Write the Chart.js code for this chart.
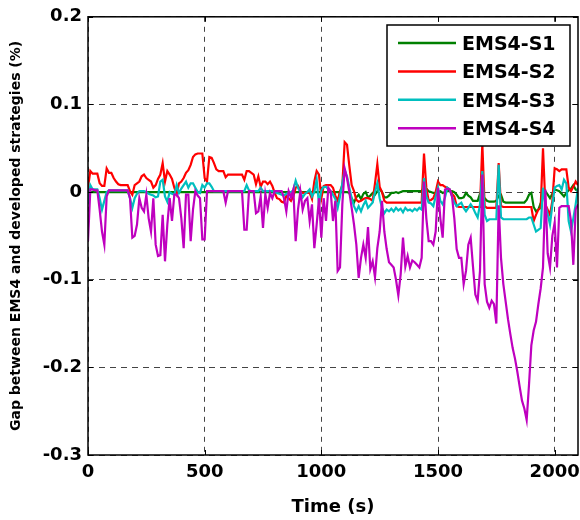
<!DOCTYPE html>
<html>
<head>
<meta charset="utf-8">
<script src="https://cdn.jsdelivr.net/npm/chart.js@4.4.0/dist/chart.umd.min.js"></script>
<style>
  html, body { margin: 0; padding: 0; background: #fff; }
</style>
</head>
<body>
<canvas id="gapChart" width="580" height="520"></canvas>
<script>
// Sample times (s), one every 10 s
const TIME = Array.from({ length: 211 }, (_, i) => i * 10);

const SERIES_LABELS = ['EMS4-S1', 'EMS4-S2', 'EMS4-S3', 'EMS4-S4'];
const SERIES_COLORS = ['#008000', '#ff0000', '#00bfbf', '#bf00bf'];

const X_TICKS = [0, 500, 1000, 1500, 2000];
const Y_TICKS = [-0.3, -0.2, -0.1, 0, 0.1, 0.2];

// Gap (%) per 10 s
const S1 = [
  0, 0, 0, 0, 0, 0, 0, 0, 0, 0,
  0, 0, 0, 0, 0, 0, 0, 0, 0, 0,
  0, 0, 0, 0, 0, 0, 0, 0, 0, 0,
  0, 0, 0, 0, 0, 0, 0, 0, 0, 0,
  0, 0, 0, 0, 0, 0, 0, 0, 0, 0,
  0, 0, 0, 0, 0, 0, 0, 0, 0, 0,
  0, 0, 0, 0, 0, 0, 0, 0, 0, 0,
  0, 0, 0, 0, 0, 0, 0, 0, 0, 0,
  0, 0, 0, 0, 0, 0, 0, 0, 0, 0,
  0, 0, 0, 0, 0, 0, 0, 0, 0, 0,
  0, 0, 0, 0, 0, 0, 0, 0, 0, 0,
  0, 0, -0.001, -0.007, -0.012, -0.006, -0.003, -0.008, -0.002, 0,
  -0.006, -0.004, -0.001, -0.003, 0.001, 0.004, 0, -0.006, -0.006, -0.004,
  -0.001, -0.001, 0, -0.001, 0, 0.001, 0.001, 0.001, 0.001, 0.001,
  0.001, 0.001, 0.001, 0.001, 0.005, 0.004, 0.001, 0, -0.001, -0.001,
  0, 0.001, -0.001, 0, 0.001, 0.001, 0.001, 0, -0.003, -0.007,
  -0.007, -0.006, -0.001, -0.004, -0.006, -0.01, -0.01, -0.01, -0.002, -0.006,
  -0.007, -0.01, -0.011, -0.011, -0.011, -0.01, -0.004, -0.003, -0.011, -0.012,
  -0.012, -0.012, -0.012, -0.012, -0.012, -0.012, -0.012, -0.012, -0.009, -0.003,
  -0.001, -0.017, -0.022, -0.02, -0.013, -0.004, 0.001, -0.003, -0.007, -0.002,
  0.003, 0.002, 0.001, -0.002, -0.005, -0.001, 0.002, 0.004, 0.008, 0.003, 0.001
];

const S2 = [
  0.005, 0.024, 0.021, 0.021, 0.021, 0.01, 0.007, 0.007, 0.027, 0.022,
  0.022, 0.016, 0.012, 0.009, 0.008, 0.008, 0.008, 0.008, 0.001, -0.003,
  0.008, 0.01, 0.012, 0.018, 0.02, 0.016, 0.014, 0.012, 0.005, 0.008,
  0.015, 0.02, 0.033, 0.012, 0.024, 0.02, 0.015, 0.005, -0.002, 0.01,
  0.012, 0.016, 0.022, 0.025, 0.031, 0.04, 0.043, 0.044, 0.044, 0.044,
  0.016, 0.012, 0.04, 0.039, 0.033, 0.026, 0.024, 0.024, 0.024, 0.017,
  0.02, 0.02, 0.02, 0.02, 0.02, 0.02, 0.02, 0.014, 0.024, 0.024,
  0.022, 0.02, 0.009, 0.018, 0.006, 0.012, 0.012, 0.009, 0.012, 0.007,
  -0.001, -0.007, -0.008, -0.011, -0.012, -0.004, -0.007, -0.01, -0.005, 0.005,
  0.007, 0.001, -0.001, -0.001, -0.001, -0.001, -0.008, 0.012, 0.024, 0.02,
  -0.007, 0.007, 0.008, 0.008, 0.008, 0.005, -0.004, -0.01, 0.001, 0.008,
  0.057, 0.054, 0.03, 0.008, 0.001, -0.009, -0.011, -0.01, -0.008, -0.007,
  -0.007, -0.008, -0.01, 0.01, 0.032, 0.006, 0, -0.01, -0.012, -0.012,
  -0.012, -0.012, -0.012, -0.012, -0.012, -0.012, -0.012, -0.012, -0.012, -0.012,
  -0.012, -0.012, -0.012, -0.012, 0.044, 0.005, -0.01, -0.009, -0.007, 0,
  0.012, 0.008, 0.008, 0.006, 0.005, 0.003, -0.002, -0.005, -0.016, -0.017,
  -0.017, -0.017, -0.017, -0.017, -0.017, -0.017, -0.017, -0.017, -0.017, 0.055,
  -0.016, -0.018, -0.018, -0.018, -0.018, -0.018, 0.033, -0.016, -0.017, -0.017,
  -0.017, -0.017, -0.017, -0.017, -0.017, -0.017, -0.017, -0.017, -0.017, -0.017,
  -0.017, -0.033, -0.026, -0.02, -0.018, 0.05, -0.014, -0.02, -0.026, -0.01,
  0.027, 0.026, 0.024, 0.026, 0.026, 0.026, 0.005, 0.001, 0.006, 0.012, 0.008
];

const S3 = [
  -0.014, 0.008, 0.003, 0.003, 0.003, -0.007, -0.02, -0.01, 0, 0.002,
  0.002, 0.002, 0.002, 0.002, 0.002, 0.002, 0.002, 0.002, -0.007, -0.018,
  -0.007, -0.002, 0.001, 0.001, 0.001, 0, -0.002, -0.003, -0.004, -0.006,
  -0.005, 0.012, 0.014, -0.005, -0.011, 0, -0.002, -0.003, 0.008, -0.001,
  0.004, 0.008, 0.012, 0.005, 0.01, 0.01, 0.005, 0, -0.001, 0.008,
  0.005, 0.01, 0.01, 0.006, 0.001, 0.001, 0.001, 0.001, 0.001, 0.001,
  0.001, 0.001, 0.001, 0.001, 0.001, 0.001, 0.001, 0.001, 0.008, 0.002,
  0.001, 0.001, 0.001, 0.001, 0.005, 0.001, 0.001, 0.001, 0.001, 0.001,
  0, -0.001, -0.002, -0.003, -0.004, -0.002, -0.001, 0, 0.002, 0.013,
  0.005, 0, -0.006, -0.002, 0, 0.003, -0.005, 0, 0.014, -0.014,
  0.002, 0.006, 0.006, 0.003, 0.001, -0.003, -0.008, -0.018, -0.005, 0.01,
  0.025, 0.018, 0.005, -0.007, -0.016, -0.022, -0.016, -0.022, -0.015, -0.01,
  -0.018, -0.015, -0.012, 0, 0.01, -0.007, -0.018, -0.024, -0.02, -0.022,
  -0.019, -0.022, -0.018, -0.021, -0.019, -0.023, -0.018, -0.021, -0.02, -0.022,
  -0.019, -0.021, -0.018, -0.02, 0.016, -0.005, -0.012, -0.013, -0.016, -0.005,
  0.005, -0.01, -0.014, -0.006, 0.005, 0.003, -0.005, -0.012, -0.016, -0.014,
  -0.012, -0.018, -0.022, -0.018, -0.014, -0.018, -0.024, -0.029, -0.014, 0.024,
  -0.026, -0.033, -0.031, -0.031, -0.031, -0.031, 0.031, -0.029, -0.031, -0.031,
  -0.031, -0.031, -0.031, -0.031, -0.031, -0.031, -0.031, -0.031, -0.031, -0.029,
  -0.029, -0.037, -0.045, -0.043, -0.041, 0.005, -0.014, -0.025, -0.037, -0.015,
  0.005, 0.007, 0.008, 0.003, 0.014, 0.01, -0.033, -0.045, -0.03, -0.014, 0.005
];

const S4 = [
  -0.056, 0.003, 0.003, 0.002, 0.002, -0.02, -0.045, -0.06, -0.005, 0.002,
  0.002, 0.002, 0.002, 0.002, 0.002, 0.002, 0.002, 0.002, -0.007, -0.052,
  -0.05, -0.037, -0.007, -0.018, -0.022, -0.003, -0.03, -0.045, -0.007, -0.06,
  -0.073, -0.072, -0.026, -0.079, -0.037, -0.007, -0.033, -0.003, -0.003, -0.007,
  -0.03, -0.064, -0.003, -0.003, -0.056, -0.02, 0.001, -0.004, -0.007, -0.054,
  -0.054, 0.001, 0.001, 0.001, 0.001, 0.001, 0.001, 0.001, 0.001, -0.012,
  0.001, 0.001, 0.001, 0.001, 0.001, 0.001, 0.001, -0.043, -0.043, 0.001,
  0.001, 0.001, -0.024, -0.022, -0.005, -0.041, -0.002, -0.018, -0.001, -0.007,
  0.001, 0.001, 0.001, 0.001, -0.007, -0.022, 0.001, -0.006, 0.003, -0.056,
  -0.02, 0.001, -0.02, -0.01, -0.007, -0.033, -0.014, -0.064, -0.037, -0.007,
  -0.052, -0.007, -0.033, 0.005, 0.001, -0.033, -0.01, -0.09, -0.086, -0.014,
  0.027, 0.016, 0, -0.018, -0.037, -0.06, -0.098, -0.075, -0.06, -0.075,
  -0.04, -0.088, -0.079, -0.097, -0.064, -0.045, -0.01, -0.045, -0.065, -0.08,
  -0.083, -0.086, -0.1, -0.118, -0.094, -0.052, -0.085, -0.073, -0.086, -0.078,
  -0.08, -0.083, -0.086, -0.075, 0.012, -0.03, -0.056, -0.056, -0.06, -0.045,
  0.005, -0.03, -0.052, 0.003, 0.004, 0.003, -0.005, -0.03, -0.065, -0.075,
  -0.075, -0.105, -0.09, -0.06, -0.052, -0.085, -0.117, -0.124, -0.09, 0.02,
  -0.105, -0.125, -0.132, -0.124, -0.128, -0.15, -0.015, -0.075, -0.105, -0.125,
  -0.145, -0.162, -0.178, -0.19, -0.205, -0.222, -0.238, -0.247, -0.26, -0.22,
  -0.175, -0.158, -0.148, -0.128, -0.11, -0.086, 0.003, -0.07, -0.086, -0.05,
  -0.035, -0.086, -0.018, -0.016, -0.016, -0.016, -0.016, -0.033, -0.083, -0.02, -0.014
];

const SERIES = [S1, S2, S3, S4];

const FONT = "'DejaVu Sans', Arial, sans-serif";

// MATLAB-style box, inward tick marks and boxed legend
const matlabFrame = {
  id: 'matlabFrame',
  afterDatasetsDraw(chart) {
    const { ctx, chartArea: a, scales } = chart;
    ctx.save();
    ctx.strokeStyle = '#000';
    ctx.lineWidth = 1;
    ctx.beginPath();
    X_TICKS.forEach(v => {
      const x = Math.round(scales.x.getPixelForValue(v)) + 0.5;
      ctx.moveTo(x, a.bottom); ctx.lineTo(x, a.bottom - 5);
      ctx.moveTo(x, a.top); ctx.lineTo(x, a.top + 5);
    });
    Y_TICKS.forEach(v => {
      const y = Math.round(scales.y.getPixelForValue(v)) + 0.5;
      ctx.moveTo(a.left, y); ctx.lineTo(a.left + 5, y);
      ctx.moveTo(a.right, y); ctx.lineTo(a.right - 5, y);
    });
    ctx.stroke();

    ctx.lineWidth = 1.5;
    ctx.strokeRect(a.left, a.top, a.right - a.left, a.bottom - a.top);

    // legend box
    const box = { x: 387, y: 25, w: 183, h: 121 };
    ctx.fillStyle = '#fff';
    ctx.fillRect(box.x, box.y, box.w, box.h);
    ctx.strokeRect(box.x, box.y, box.w, box.h);
    ctx.font = 'bold 19px ' + FONT;
    ctx.textBaseline = 'alphabetic';
    ctx.textAlign = 'left';
    chart.data.datasets.forEach((ds, i) => {
      const cy = box.y + 18 + i * 28.4;
      ctx.strokeStyle = ds.borderColor;
      ctx.lineWidth = 2.5;
      ctx.beginPath();
      ctx.moveTo(398, cy);
      ctx.lineTo(456, cy);
      ctx.stroke();
      ctx.fillStyle = '#000';
      ctx.fillText(ds.label, 462, cy + 7);
    });
    ctx.restore();
  }
};

new Chart(document.getElementById('gapChart'), {
  type: 'line',
  data: {
    datasets: SERIES.map((vals, i) => ({
      label: SERIES_LABELS[i],
      data: TIME.map((t, k) => ({ x: t, y: vals[k] })),
      borderColor: SERIES_COLORS[i],
      borderWidth: 2.2,
      pointRadius: 0,
      fill: false,
      tension: 0,
      order: SERIES.length - i
    }))
  },
  plugins: [matlabFrame],
  options: {
    responsive: false,
    animation: false,
    layout: { padding: { left: 0, right: 2, top: 15, bottom: 0 } },
    plugins: {
      legend: { display: false },
      tooltip: { enabled: false }
    },
    scales: {
      x: {
        type: 'linear',
        min: 0,
        max: 2100,
        afterBuildTicks: s => { s.ticks = X_TICKS.map(v => ({ value: v })); },
        afterFit: s => { s.height = 65; s.paddingLeft = 0; s.paddingRight = 0; },
        grid: { color: '#444', drawTicks: false },
        border: { display: false, dash: [5, 5] },
        ticks: {
          color: '#000',
          padding: 7,
          maxRotation: 0,
          font: { family: FONT, size: 18, weight: 'bold' },
          callback: v => String(v)
        },
        title: {
          display: true,
          text: 'Time (s)',
          color: '#000',
          padding: { top: 0, bottom: 2 },
          font: { family: FONT, size: 18, weight: 'bold' }
        }
      },
      y: {
        min: -0.3,
        max: 0.2,
        afterBuildTicks: s => { s.ticks = Y_TICKS.map(v => ({ value: v })); },
        afterFit: s => { s.width = 88; },
        grid: { color: '#444', drawTicks: false },
        border: { display: false, dash: [6, 5] },
        ticks: {
          color: '#000',
          padding: 6,
          font: { family: FONT, size: 18, weight: 'bold' },
          callback: v => String(Number(v.toFixed(1)))
        },
        title: {
          display: true,
          text: 'Gap between EMS4 and developed strategies (%)',
          color: '#000',
          padding: { top: 8, bottom: 0 },
          font: { family: FONT, size: 14, weight: 'bold' }
        }
      }
    }
  }
});
</script>
</body>
</html>
